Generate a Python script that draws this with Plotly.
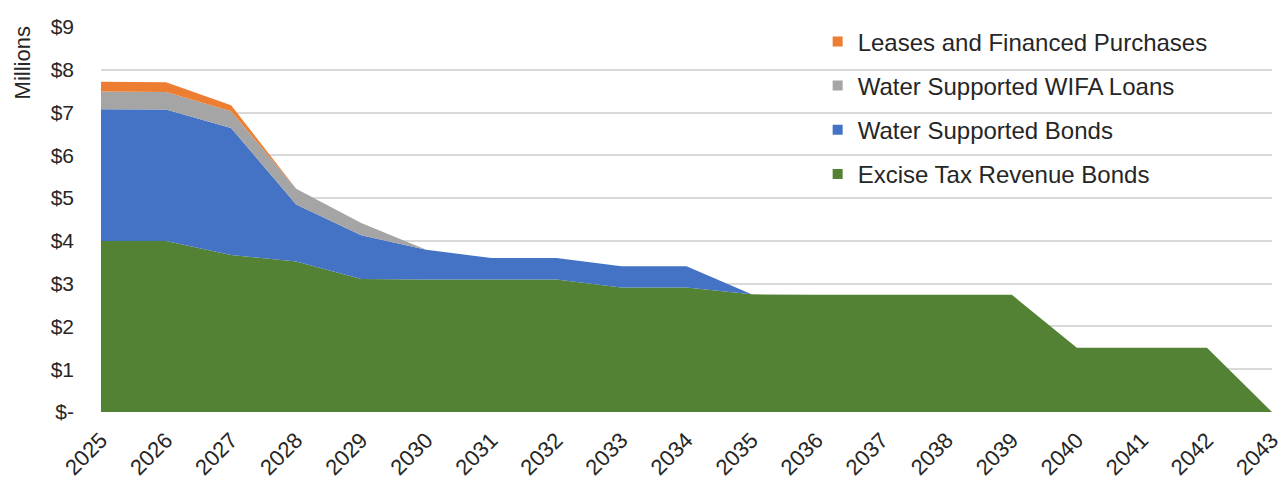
import plotly.graph_objects as go

years = list(range(2025, 2044))
excise = [4.00, 4.00, 3.67, 3.52, 3.11, 3.10, 3.10, 3.10, 2.91, 2.91, 2.75, 2.74, 2.74, 2.74, 2.74, 1.50, 1.50, 1.50, 0.0]
water_bonds = [3.08, 3.07, 2.97, 1.33, 1.02, 0.69, 0.50, 0.50, 0.50, 0.50, 0.0, 0, 0, 0, 0, 0, 0, 0, 0]
wifa = [0.41, 0.41, 0.39, 0.37, 0.29, 0.0, 0, 0, 0, 0, 0, 0, 0, 0, 0, 0, 0, 0, 0]
leases = [0.23, 0.23, 0.14, 0.0, 0, 0, 0, 0, 0, 0, 0, 0, 0, 0, 0, 0, 0, 0, 0]

series = [
    ("Excise Tax Revenue Bonds", excise, "#548235"),
    ("Water Supported Bonds", water_bonds, "#4472C4"),
    ("Water Supported WIFA Loans", wifa, "#A5A5A5"),
    ("Leases and Financed Purchases", leases, "#ED7D31"),
]

y_ticks = list(range(0, 10))
y_labels = ["$-"] + [f"${v}" for v in range(1, 10)]

fig = go.Figure()
for name, vals, color in series:
    fig.add_trace(go.Scatter(
        x=years, y=vals, name=name, stackgroup="one", mode="none",
        fillcolor=color, showlegend=False, hoverinfo="x+y+name",
    ))

# legend entries (square markers), top to bottom
for i, (name, vals, color) in enumerate(reversed(series)):
    fig.add_trace(go.Scatter(
        x=[None], y=[None], mode="markers", name=name,
        marker=dict(symbol="square", size=10, color=color),
        legendgroup=f"g{i}",
    ))

font = "Arial, Liberation Sans, sans-serif"
fig.update_layout(
    width=1278, height=475,
    margin=dict(l=93, r=14, t=11, b=71),
    paper_bgcolor="white", plot_bgcolor="white",
    font=dict(family=font, size=21, color="#262626"),
    showlegend=True,
    legend=dict(
        x=0.612, y=1.02, xanchor="left", yanchor="top",
        traceorder="grouped", tracegroupgap=10,
        font=dict(size=24, color="#262626"),
        bgcolor="rgba(0,0,0,0)", itemwidth=30,
    ),
    xaxis=dict(
        range=[2025, 2043], tickmode="array", tickvals=years,
        ticktext=[str(y) for y in years], tickangle=-45,
        showgrid=False, zeroline=False, showline=False, ticks="",
        tickfont=dict(size=22), automargin=False, ticklabelstandoff=10,
    ),
    yaxis=dict(
        range=[0, 9], tickmode="array", tickvals=y_ticks, ticktext=y_labels,
        showgrid=True, gridcolor="#D9D9D9", gridwidth=1.5, zeroline=False,
        showline=False, ticks="", tickfont=dict(size=21), automargin=False,
        ticklabelstandoff=26,
    ),
    annotations=[dict(
        text="Millions", textangle=-90, xref="paper", yref="paper",
        x=-0.0675, y=0.908, xanchor="center", yanchor="middle",
        showarrow=False, font=dict(size=22, color="#262626"),
    )],
)

fig.write_html("out.html")
